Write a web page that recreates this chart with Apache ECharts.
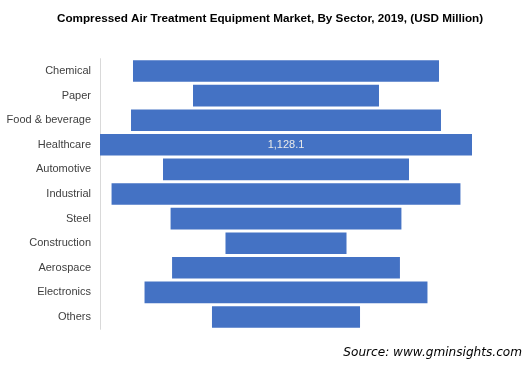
<!DOCTYPE html>
<html><head><meta charset="utf-8">
<script src="https://cdn.jsdelivr.net/npm/echarts@6/dist/echarts.min.js"></script>
<style>html,body{margin:0;padding:0;background:#fff}#c{width:531px;height:365px}</style>
</head><body><div id="c"></div>
<script>
var categories = ["Chemical","Paper","Food & beverage","Healthcare","Automotive","Industrial","Steel","Construction","Aerospace","Electronics","Others"];
var values = [928, 564, 940, 1128.1, 746, 1058, 700, 367, 691, 858, 449];
var labeled = "Healthcare";

var maxV = Math.max.apply(null, values);
var offsets = values.map(function(v){ return (maxV - v) / 2; });

var chart = echarts.init(document.getElementById('c'));
chart.setOption({
  animation: false,
  title: [{
    text: 'Compressed Air Treatment Equipment Market, By Sector, 2019, (USD Million)',
    left: 52, top: 8,
    textStyle: {fontFamily: 'Liberation Sans, Arial', fontSize: 11.7, fontWeight: 'bold', color: '#000'}
  },{
    text: 'Source: www.gminsights.com',
    right: 4, top: 342,
    textStyle: {fontFamily: 'DejaVu Sans', fontSize: 12.1, fontStyle: 'italic', fontWeight: 'normal', color: '#000'}
  }],
  grid: {left: 100, right: 59, top: 58.7, bottom: 365 - 329.3, containLabel: false},
  xAxis: {type: 'value', min: 0, max: maxV, show: false},
  yAxis: {
    type: 'category', data: categories, inverse: true,
    axisLine: {show: true, lineStyle: {color: '#d9d9d9', width: 1}},
    axisTick: {show: false},
    axisLabel: {fontFamily: 'Liberation Sans, Arial', fontSize: 11, color: '#404040', margin: 9}
  },
  series: [{
    type: 'bar', stack: 's', data: offsets, silent: true,
    itemStyle: {color: 'rgba(0,0,0,0)'}, barCategoryGap: '12%'
  },{
    type: 'bar', stack: 's', barCategoryGap: '12%',
    data: values.map(function(v, i){
      return {
        value: v,
        label: {
          show: categories[i] === labeled,
          position: 'inside',
          formatter: function(p){ return p.value.toLocaleString('en-US', {minimumFractionDigits: 1}); },
          color: '#eaeaea', fontFamily: 'Liberation Sans, Arial', fontSize: 11
        }
      };
    }),
    itemStyle: {color: '#4472c4'}
  }]
});
</script></body></html>
